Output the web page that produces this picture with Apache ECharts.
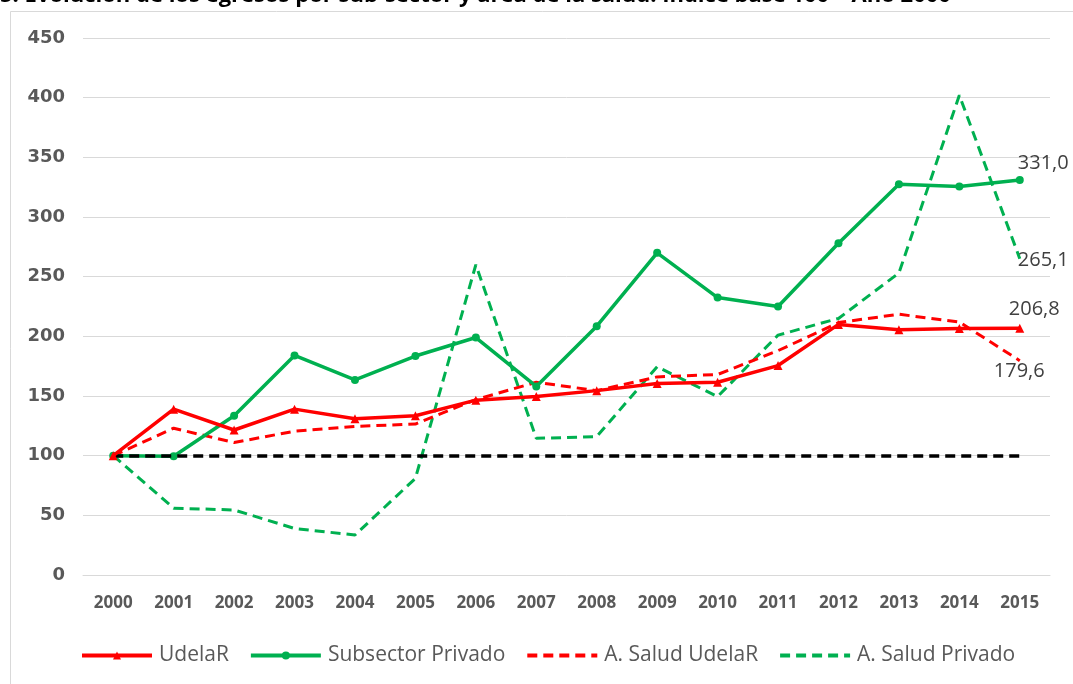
<!DOCTYPE html>
<html>
<head>
<meta charset="utf-8">
<title>Evolución de los egresos</title>
<script src="https://cdn.jsdelivr.net/npm/echarts@6/dist/echarts.min.js"></script>
<style>
  html, body { margin: 0; padding: 0; background: #fff; }
  #chart { width: 1073px; height: 684px; }
</style>
</head>
<body>
<div id="chart"></div>
<script>
// años
var years = ['2000', '2001', '2002', '2003', '2004', '2005', '2006', '2007',
  '2008', '2009', '2010', '2011', '2012', '2013', '2014', '2015'];

// índices base 100 (año 2000)
var udelar = [100, 139, 121.5, 139, 131, 133.5, 146.5, 149.5, 154.5, 160.5, 161.5, 175.5, 210, 205.5, 206.5, 206.8];
var subsectorPrivado = [100, 99.5, 133.5, 184, 163.5, 183.5, 199, 158, 208.5, 270, 232.5, 225, 278, 327.5, 325.5, 331.0];
var saludUdelar = [100, 123, 111, 120.5, 124.5, 126.5, 147, 161.5, 154.5, 166, 168, 188, 211.5, 218.5, 212, 179.6];
var saludPrivado = [100, 56, 54.5, 39, 33.5, 81, 260, 114.5, 116, 174.5, 149.5, 201, 215, 253, 402, 265.1];

var baseValue = 100;
var yTicks = { min: 0, max: 450, interval: 50 };

var RED = '#FF0000', GREEN = '#00B050';

var chart = echarts.init(document.getElementById('chart'));

function fmtEnd(p) {
  return p.value.toFixed(1).replace('.', ',');
}

function endLabel(offset) {
  return {
    show: true,
    distance: 0,
    offset: offset,
    formatter: fmtEnd,
    color: '#404040',
    fontFamily: 'Open Sans',
    fontSize: 20
  };
}

var option = {
  animation: false,
  backgroundColor: '#fff',
  graphic: [
    {
      type: 'rect',
      shape: { x: 10.5, y: 11.5, width: 1100, height: 700 },
      style: { fill: 'none', stroke: '#d9d9d9', lineWidth: 1 },
      silent: true
    },
    {
      type: 'text',
      x: 0,
      y: -4,
      style: {
        text: '5. Evolución de los egresos por sub-sector y área de la salud. Índice base 100 – Año 2000',
        fill: '#000',
        font: 'bold 22px "Open Sans"',
        verticalAlign: 'middle'
      },
      silent: true
    }
  ],
  grid: { left: 83, right: 23, top: 38, bottom: 109 },
  legend: {
    left: 75,
    top: 640,
    itemWidth: 70,
    itemHeight: 10,
    itemGap: 20,
    lineStyle: { width: 4 },
    textStyle: { color: '#595959', fontFamily: 'Open Sans', fontSize: 21, padding: [0, 0, 0, 2] },
    data: [
      { name: 'UdelaR' },
      { name: 'Subsector Privado' },
      { name: 'A. Salud UdelaR', itemStyle: { opacity: 0 } },
      { name: 'A. Salud Privado', itemStyle: { opacity: 0 } }
    ]
  },
  xAxis: {
    type: 'category',
    data: years,
    boundaryGap: true,
    axisLine: { lineStyle: { color: '#d9d9d9', width: 1 } },
    axisTick: { show: false },
    axisLabel: { color: '#595959', fontFamily: 'Open Sans', fontWeight: 'bold', fontSize: 17, margin: 20 }
  },
  yAxis: {
    type: 'value',
    min: yTicks.min,
    max: yTicks.max,
    interval: yTicks.interval,
    axisLine: { show: false },
    axisTick: { show: false },
    splitLine: { lineStyle: { color: '#d9d9d9', width: 1 } },
    axisLabel: { color: '#595959', fontFamily: 'DejaVu Sans', fontWeight: 'bold', fontSize: 18, margin: 18 }
  },
  series: [
    {
      name: 'A. Salud Privado',
      type: 'line',
      data: saludPrivado,
      symbol: 'none',
      lineStyle: { color: GREEN, width: 3, type: [10, 6] },
      itemStyle: { color: GREEN },
      endLabel: endLabel([-2, 2]),
      z: 2
    },
    {
      name: 'A. Salud UdelaR',
      type: 'line',
      data: saludUdelar,
      symbol: 'none',
      lineStyle: { color: RED, width: 3, type: [10, 6] },
      itemStyle: { color: RED },
      endLabel: endLabel([-26, 11]),
      z: 3
    },
    {
      name: 'Subsector Privado',
      type: 'line',
      data: subsectorPrivado,
      symbol: 'circle',
      symbolSize: 8,
      lineStyle: { color: GREEN, width: 3.5 },
      itemStyle: { color: GREEN },
      endLabel: endLabel([-2, -17]),
      z: 4
    },
    {
      name: 'UdelaR',
      type: 'line',
      data: udelar,
      symbol: 'triangle',
      symbolSize: 9,
      lineStyle: { color: RED, width: 3.5 },
      itemStyle: { color: RED },
      endLabel: endLabel([-11, -19]),
      markLine: {
        silent: true,
        symbol: 'none',
        label: { show: false },
        lineStyle: { color: '#000', width: 3.5, type: [10, 6] },
        data: [[{ coord: [years[0], baseValue] }, { coord: [years[years.length - 1], baseValue] }]]
      },
      z: 5
    }
  ]
};

chart.setOption(option);
</script>
</body>
</html>
